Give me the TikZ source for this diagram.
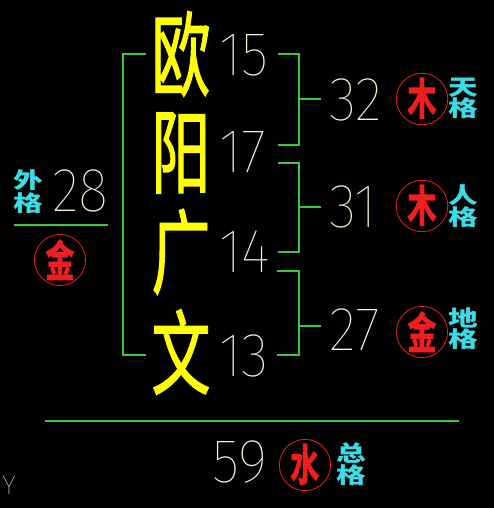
\documentclass[tikz,border=0pt]{standalone}
\usepackage{fontspec}
\newfontfamily\cjk{Noto Sans CJK SC}
\newfontfamily\cjkbig{Noto Sans CJK SC}[FakeBold=1.6]
\IfFontExistsTF{Fira Sans Thin}{\newfontfamily\numfont{Fira Sans Thin}}{%
 \IfFontExistsTF{DejaVuSans-ExtraLight.ttf}{\newfontfamily\numfont{DejaVuSans-ExtraLight.ttf}}{%
  \IfFontExistsTF{DejaVu Sans ExtraLight}{\newfontfamily\numfont{DejaVu Sans ExtraLight}}{%
   \IfFontExistsTF{FiraSans-Light.otf}{\newfontfamily\numfont{FiraSans-Light.otf}}{%
    \IfFontExistsTF{Fira Sans Light}{\newfontfamily\numfont{Fira Sans Light}}{%
     \newfontfamily\numfont{Fira Sans}}}}}}
\definecolor{lgreen}{RGB}{60,200,60}
\definecolor{numcol}{RGB}{245,245,215}
\definecolor{wxred}{RGB}{240,30,30}
\definecolor{labcyan}{RGB}{60,220,230}
\definecolor{yel}{RGB}{255,255,0}
\begin{document}
\begin{tikzpicture}[x=1pt,y=-1pt,
  gline/.style={draw=lgreen, line width=1.2pt},
  big/.style={inner sep=0pt, text=yel, font=\cjkbig\fontsize{92}{92}\selectfont},
  num/.style={inner sep=0pt, anchor=west, text=numcol, font=\numfont\fontsize{62}{62}\selectfont},
  wx/.style={circle, draw=wxred, line width=0.8pt, minimum size=48pt, inner sep=0pt, text=wxred, font=\cjk\bfseries\fontsize{44}{44}\selectfont},
  lab/.style={inner sep=0pt, text=labcyan, font=\cjk\bfseries\fontsize{22}{22}\selectfont}]
\fill[black] (0,0) rectangle (494,508);
\useasboundingbox (0,0) rectangle (494,508);
% big name characters
\node[big] (c1) at (181,54) {\scalebox{0.64}[1]{欧}};
\node[big] (c2) at (181,153) {\scalebox{0.64}[1]{阳}};
\node[big] (c3) at (181,252) {\scalebox{0.64}[1]{广}};
\node[big] (c4) at (181,352) {\scalebox{0.64}[1]{文}};
% stroke numbers
\node[num] (n1) at (219,55) {\scalebox{0.92}[1]{15}};
\node[num] (n2) at (219,152) {\scalebox{0.92}[1]{17}};
\node[num] (n3) at (219,252) {\scalebox{0.92}[1]{14}};
\node[num] (n4) at (219,356) {\scalebox{0.92}[1]{13}};
% grid numbers
\node[num] (g1) at (329,100) {\scalebox{0.92}[1]{32}};
\node[num] (g2) at (329,207) {\scalebox{0.92}[1]{31}};
\node[num] (g3) at (329,330) {\scalebox{0.92}[1]{27}};
\node[num] (g4) at (52,191) {\scalebox{0.92}[1]{28}};
\node[num] (g5) at (212,462) {\scalebox{0.92}[1]{59}};
% element circles
\node[wx] (w1) at (422,99) {\scalebox{0.68}[1]{木}};
\node[wx] (w2) at (422,206) {\scalebox{0.68}[1]{木}};
\node[wx] (w3) at (422,332) {\scalebox{0.68}[1]{金}};
\node[wx] (w4) at (60,260) {\scalebox{0.68}[1]{金}};
\node[wx] (w5) at (305,465) {\scalebox{0.68}[1]{水}};
% labels
\node[lab] (l1a) at (463,88) {\scalebox{1.35}[1]{天}};
\node[lab] (l1b) at (463,108) {\scalebox{1.35}[1]{格}};
\node[lab] (l2a) at (463,195) {\scalebox{1.35}[1]{人}};
\node[lab] (l2b) at (463,217) {\scalebox{1.35}[1]{格}};
\node[lab] (l3a) at (463,318) {\scalebox{1.35}[1]{地}};
\node[lab] (l3b) at (463,339) {\scalebox{1.35}[1]{格}};
\node[lab] (l4a) at (28,180) {\scalebox{1.35}[1]{外}};
\node[lab] (l4b) at (28,203) {\scalebox{1.35}[1]{格}};
\node[lab] (l5a) at (351,453) {\scalebox{1.35}[1]{总}};
\node[lab] (l5b) at (351,475) {\scalebox{1.35}[1]{格}};
% axis letter
\node[inner sep=0pt, text=numcol, font=\numfont\fontsize{27}{27}\selectfont] (ax) at (9,485) {Y};
% bracket coordinates
\coordinate (La) at (146,54);  \coordinate (Lb) at (123,54);
\coordinate (Lc) at (123,355); \coordinate (Ld) at (146,355);
\coordinate (A1) at (278,54);  \coordinate (A2) at (299,54);
\coordinate (A3) at (299,145); \coordinate (A4) at (278,145);
\coordinate (Am) at (299,99);  \coordinate (At) at (321,99);
\coordinate (B1) at (278,163); \coordinate (B2) at (299,163);
\coordinate (B3) at (299,252); \coordinate (B4) at (278,252);
\coordinate (Bm) at (299,207); \coordinate (Bt) at (321,207);
\coordinate (C1) at (277,271); \coordinate (C2) at (299,271);
\coordinate (C3) at (299,355); \coordinate (C4) at (277,355);
\coordinate (Cm) at (299,326); \coordinate (Ct) at (321,326);
\coordinate (U1) at (14,225);  \coordinate (U2) at (108,225);
\coordinate (T1) at (45,421);  \coordinate (T2) at (459,421);
\draw[gline] (La) -- (Lb) -- (Lc) -- (Ld);
\draw[gline] (A1) -- (A2) -- (A3) -- (A4);
\draw[gline] (Am) -- (At);
\draw[gline] (B1) -- (B2) -- (B3) -- (B4);
\draw[gline] (Bm) -- (Bt);
\draw[gline] (C1) -- (C2) -- (C3) -- (C4);
\draw[gline] (Cm) -- (Ct);
\draw[gline] (U1) -- (U2);
\draw[gline] (T1) -- (T2);
\end{tikzpicture}
\end{document}
